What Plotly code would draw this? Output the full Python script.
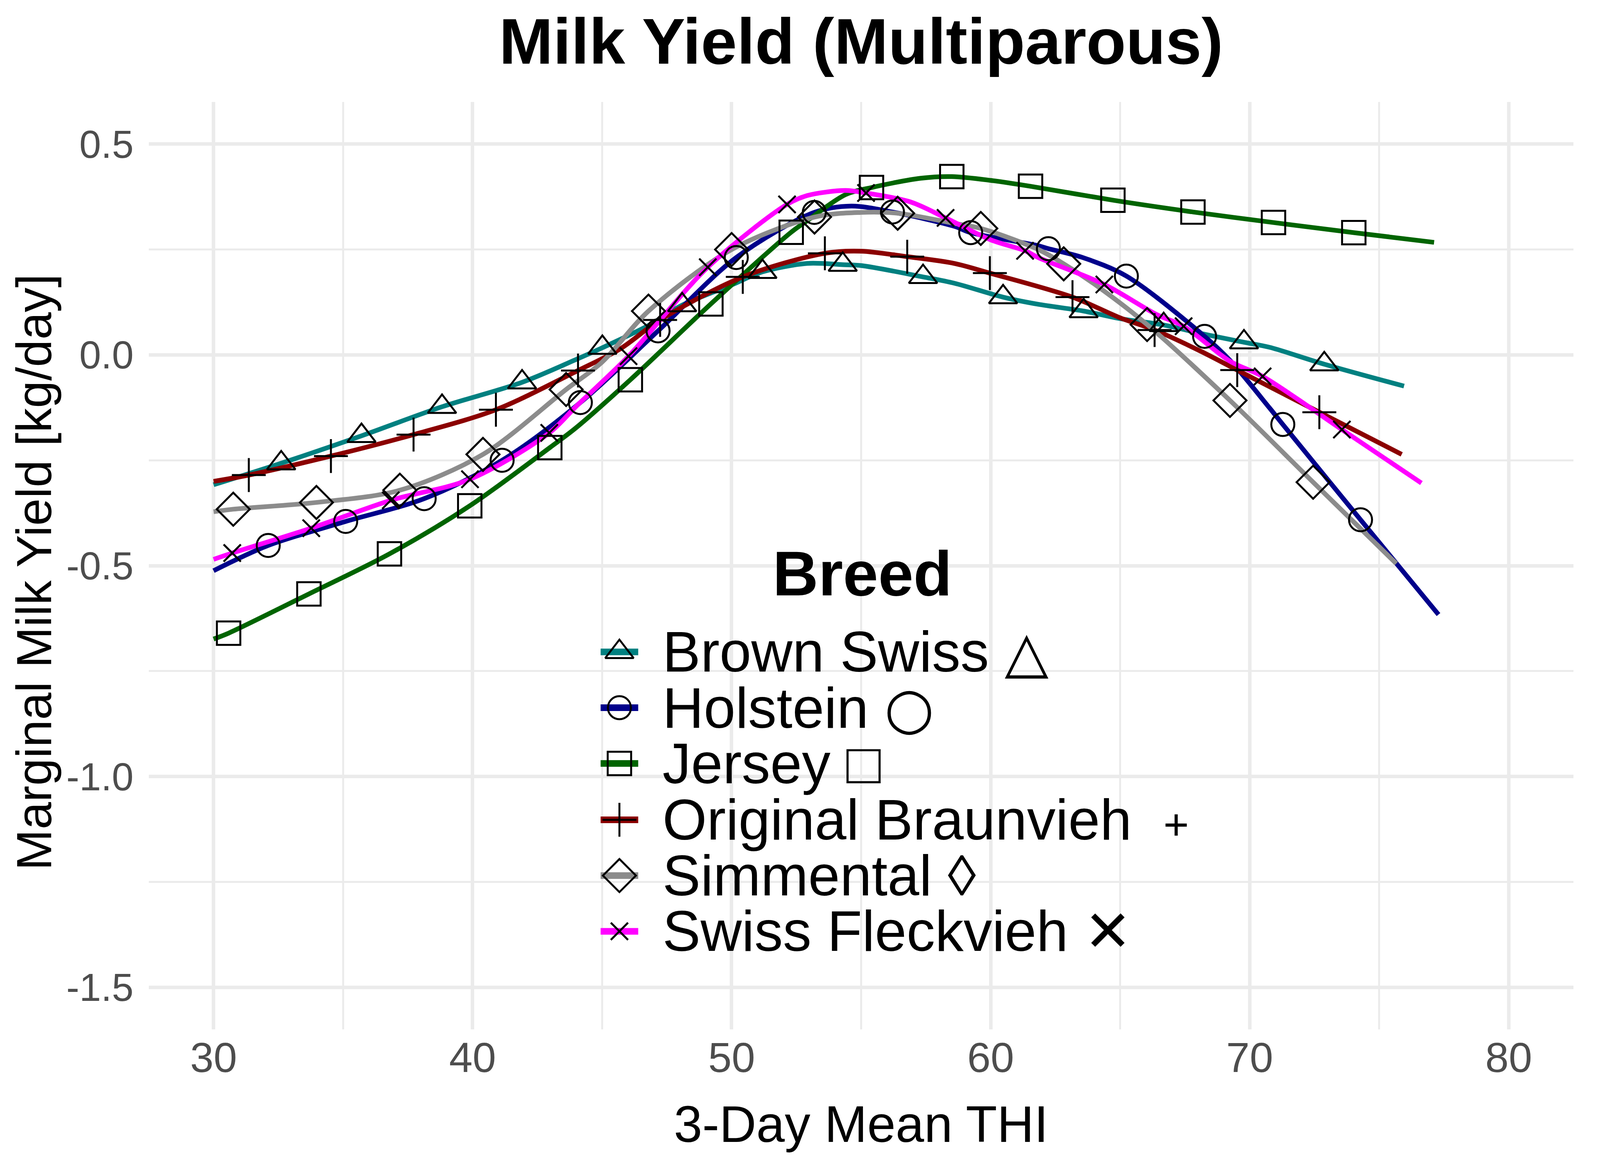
import plotly.graph_objects as go

# ---- data (3-day mean THI vs marginal milk yield) ----
breeds = ["Brown Swiss", "Holstein", "Jersey", "Original Braunvieh", "Simmental", "Swiss Fleckvieh"]
legend_labels = [
    "Brown Swiss △",
    "Holstein <span style=\"font-family:'DejaVu Sans'\">○</span>",
    "Jersey □",
    "Original Braunvieh\u00a0\u00a0<span style='font-size:112px'>+</span>",
    "Simmental ◊",
    "Swiss Fleckvieh ✕",
]
colors = ["#008080", "#00008B", "#006400", "#8B0000", "#8C8C8C", "#FF00FF"]
symbols = ["triangle-up-open", "circle-open", "square-open", "cross-thin-open", "diamond-open", "x-thin-open"]
marker_sizes = [63, 59, 60, 62, 65, 44]

# smooth curves (control points)
bs_x = [30.0, 32.61, 35.71, 38.82, 41.91, 43.99, 45.01, 46.83, 48.09, 50.0, 51.19, 52.92, 54.29, 55.0,
        57.39, 58.6, 60.48, 61.84, 63.59, 65.0, 66.68, 68.1, 69.78, 70.77, 72.88, 75.96]
bs_y = [-0.308, -0.257, -0.192, -0.123, -0.065, -0.011, 0.017, 0.071, 0.118, 0.166, 0.197, 0.217, 0.214, 0.212,
        0.185, 0.170, 0.137, 0.120, 0.104, 0.086, 0.071, 0.051, 0.030, 0.018, -0.022, -0.074]

ho_x = [30.0, 32.11, 35.10, 38.13, 41.14, 44.16, 47.16, 50.18, 53.19, 54.62, 56.21, 58.6, 59.23, 61.84,
        62.23, 63.55, 65.24, 68.26, 69.24, 70.77, 71.28, 74.28, 77.29]
ho_y = [-0.512, -0.452, -0.395, -0.341, -0.250, -0.113, 0.057, 0.231, 0.338, 0.353, 0.339, 0.305, 0.290, 0.259,
        0.252, 0.231, 0.187, 0.044, -0.013, -0.126, -0.165, -0.391, -0.616]

je_x = [30.0, 30.58, 33.68, 36.79, 39.89, 42.98, 43.99, 46.09, 49.2, 52.3, 52.91, 54.39, 55.4, 57.3, 58.5,
        60.0, 61.54, 64.72, 67.81, 70.92, 74.02, 77.12]
je_y = [-0.674, -0.660, -0.567, -0.472, -0.358, -0.220, -0.173, -0.059, 0.121, 0.291, 0.318, 0.380, 0.397, 0.419, 0.423,
        0.414, 0.400, 0.367, 0.339, 0.314, 0.290, 0.267]

ob_x = [30.0, 31.36, 34.53, 37.72, 40.90, 44.07, 45.69, 47.24, 50.43, 53.6, 55.0, 56.78, 58.6, 59.97, 63.16,
        65.0, 66.33, 68.1, 69.52, 72.69, 75.87]
ob_y = [-0.300, -0.285, -0.240, -0.189, -0.130, -0.037, 0.014, 0.083, 0.185, 0.241, 0.246, 0.233, 0.217, 0.194, 0.137,
        0.088, 0.059, 0.009, -0.036, -0.136, -0.236]

si_x = [30.0, 30.76, 33.97, 37.19, 40.40, 43.61, 45.0, 46.79, 50.0, 53.2, 55.0, 56.41, 58.6, 59.62, 61.84,
        62.82, 64.12, 66.04, 69.24, 72.45, 75.66]
si_y = [-0.372, -0.366, -0.350, -0.321, -0.236, -0.082, -0.017, 0.104, 0.250, 0.327, 0.338, 0.336, 0.312, 0.300, 0.250,
        0.216, 0.163, 0.072, -0.108, -0.302, -0.495]

sf_x = [30.0, 30.72, 33.77, 36.84, 39.90, 42.96, 44.0, 46.02, 49.08, 52.14, 52.92, 54.39, 55.19, 56.9, 58.26,
        60.0, 61.33, 61.84, 64.39, 66.4, 67.45, 69.24, 70.5, 73.56, 76.63]
sf_y = [-0.485, -0.470, -0.411, -0.345, -0.295, -0.185, -0.122, -0.003, 0.208, 0.357, 0.378, 0.390, 0.384, 0.363, 0.325,
        0.273, 0.247, 0.231, 0.167, 0.096, 0.068, -0.015, -0.051, -0.177, -0.304]

# point markers drawn on top of each curve
bs_mx = [32.61, 35.71, 38.82, 41.91, 45.01, 48.09, 51.19, 54.29, 57.39, 60.48, 63.59, 66.68, 69.78, 72.88]
bs_my = [-0.257, -0.192, -0.123, -0.065, 0.017, 0.118, 0.197, 0.214, 0.185, 0.137, 0.104, 0.071, 0.030, -0.022]

ho_mx = [32.11, 35.10, 38.13, 41.14, 44.16, 47.16, 50.18, 53.19, 56.21, 59.23, 62.23, 65.24, 68.26, 71.28, 74.28]
ho_my = [-0.452, -0.395, -0.341, -0.250, -0.113, 0.057, 0.231, 0.338, 0.339, 0.290, 0.252, 0.187, 0.044, -0.165, -0.391]

je_mx = [30.58, 33.68, 36.79, 39.89, 42.98, 46.09, 49.2, 52.3, 55.4, 58.5, 61.54, 64.72, 67.81, 70.92, 74.02]
je_my = [-0.660, -0.567, -0.472, -0.358, -0.220, -0.059, 0.121, 0.291, 0.397, 0.423, 0.400, 0.367, 0.339, 0.314, 0.290]

ob_mx = [31.36, 34.53, 37.72, 40.90, 44.07, 47.24, 50.43, 53.6, 56.78, 59.97, 63.16, 66.33, 69.52, 72.69]
ob_my = [-0.285, -0.240, -0.189, -0.130, -0.037, 0.083, 0.185, 0.241, 0.233, 0.194, 0.137, 0.059, -0.036, -0.136]

si_mx = [30.76, 33.97, 37.19, 40.40, 43.61, 46.79, 50.0, 53.2, 56.41, 59.62, 62.82, 66.04, 69.24, 72.45]
si_my = [-0.366, -0.350, -0.321, -0.236, -0.082, 0.104, 0.250, 0.327, 0.336, 0.300, 0.216, 0.072, -0.108, -0.302]

sf_mx = [30.72, 33.77, 36.84, 39.90, 42.96, 46.02, 49.08, 52.14, 55.19, 58.26, 61.33, 64.39, 67.45, 70.5, 73.56]
sf_my = [-0.470, -0.411, -0.345, -0.295, -0.185, -0.003, 0.208, 0.357, 0.384, 0.325, 0.247, 0.167, 0.068, -0.051, -0.177]

x_ticks = [30, 40, 50, 60, 70, 80]
x_ticktext = ["30", "40", "50", "60", "70", "80"]
x_minor = [35, 45, 55, 65, 75]
y_ticks = [-1.5, -1.0, -0.5, 0.0, 0.5]
y_ticktext = ["-1.5", "-1.0", "-0.5", "0.0", "0.5"]
y_minor = [-1.25, -0.75, -0.25, 0.25]

curves = [(bs_x, bs_y), (ho_x, ho_y), (je_x, je_y), (ob_x, ob_y), (si_x, si_y), (sf_x, sf_y)]
points = [(bs_mx, bs_my), (ho_mx, ho_my), (je_mx, je_my), (ob_mx, ob_my), (si_mx, si_my), (sf_mx, sf_my)]

FONT = "Liberation Sans, Arial, Helvetica, sans-serif"

# the browser viewport turned out narrower than 4800px, so lay the figure out
# in the reference proportions at a size that fits completely
REF_W, REF_H = 4800, 3000
W, H = 4060, 2984
sx, sy = W / REF_W, H / REF_H
# panel edges in reference pixels
PL, PR, PT, PB = 441, 4753, 254.5, 2641.5
ml, mr = PL * sx, (REF_W - PR) * sx

fig = go.Figure()

for (cx, cy), col, name in zip(curves, colors, breeds):
    fig.add_trace(go.Scatter(
        x=cx, y=cy, mode="lines", name=name, showlegend=False,
        line=dict(color=col, width=12, shape="spline", smoothing=0.9),
    ))

for (mx, my), sym, size, name in zip(points, symbols, marker_sizes, breeds):
    fig.add_trace(go.Scatter(
        x=mx, y=my, mode="markers", name=name, showlegend=False,
        marker=dict(symbol=sym, size=size, color="black", line=dict(color="black", width=5)),
    ))

# hand-drawn legend on an overlay axis measured in reference pixels
# (plotly caps legend marker sizes, so the built-in legend comes out far too small)
leg_rows = [1670, 1813.5, 1957, 2102, 2245.5, 2389]
key_x0, key_x1, text_x = 1808.5, 1922.3, 1993
for row, col, sym, size, label in zip(leg_rows, colors, symbols, marker_sizes, legend_labels):
    fig.add_trace(go.Scatter(
        x=[key_x0, key_x1], y=[row, row], mode="lines", xaxis="x2", yaxis="y2",
        showlegend=False, hoverinfo="skip", line=dict(color=col, width=17),
    ))
    fig.add_trace(go.Scatter(
        x=[(key_x0 + key_x1) / 2], y=[row], mode="markers", xaxis="x2", yaxis="y2",
        showlegend=False, hoverinfo="skip",
        marker=dict(symbol=sym, size=size, color="black", line=dict(color="black", width=5)),
    ))
    fig.add_annotation(
        x=text_x, y=row, xref="x2", yref="y2", text=label, showarrow=False,
        xanchor="left", yanchor="middle", font=dict(family=FONT, size=146, color="black"),
    )

fig.add_annotation(
    x=2600, y=1468, xref="x2", yref="y2", text="<b>Breed</b>", showarrow=False,
    xanchor="center", yanchor="middle", font=dict(family=FONT, size=162, color="black"),
)

# axis titles
fig.add_annotation(
    x=0.5, y=(PB - 2885) / (PB - PT), xref="paper", yref="paper", text="3-Day Mean THI",
    showarrow=False, xanchor="center", yanchor="middle", font=dict(family=FONT, size=131, color="black"),
)
fig.add_annotation(
    x=(80 - ml) / (W - ml - mr), y=(PB - 1465) / (PB - PT), xref="paper", yref="paper",
    text="Marginal Milk Yield [kg/day]", textangle=-90, showarrow=False,
    xanchor="center", yanchor="middle", font=dict(family=FONT, size=126, color="black"),
)

grid = "#EBEBEB"
fig.update_layout(
    width=W,
    height=H,
    paper_bgcolor="white",
    plot_bgcolor="white",
    showlegend=False,
    margin=dict(l=ml, r=mr, t=PT * sy, b=(REF_H - PB) * sy, autoexpand=False),
    title=dict(
        text="<b>Milk Yield (Multiparous)</b>", x=0.5, xref="paper", xanchor="center",
        y=1 - 97 / REF_H, yref="container", yanchor="middle",
        font=dict(family=FONT, size=166, color="black"),
    ),
    xaxis=dict(
        range=[27.5, 82.5], tickmode="array", tickvals=x_ticks, ticktext=x_ticktext,
        showgrid=True, gridcolor=grid, gridwidth=8.5, zeroline=False, showline=False,
        ticks="", ticklabelstandoff=0,
        tickfont=dict(family=FONT, size=108, color="#4D4D4D"),
        minor=dict(tickmode="array", tickvals=x_minor, showgrid=True, gridcolor=grid, gridwidth=4.5, ticks=""),
    ),
    yaxis=dict(
        range=[-1.6, 0.6], tickmode="array", tickvals=y_ticks, ticktext=y_ticktext,
        showgrid=True, gridcolor=grid, gridwidth=8.5, zeroline=False, showline=False,
        ticks="outside", ticklen=18, tickcolor="rgba(0,0,0,0)",
        tickfont=dict(family=FONT, size=100, color="#4D4D4D"),
        minor=dict(tickmode="array", tickvals=y_minor, showgrid=True, gridcolor=grid, gridwidth=4.5, ticks=""),
    ),
    xaxis2=dict(range=[PL, PR], overlaying="x", anchor="y2", visible=False, fixedrange=True),
    yaxis2=dict(range=[PB, PT], overlaying="y", anchor="x2", visible=False, fixedrange=True),
)

fig.write_html("out.html")
